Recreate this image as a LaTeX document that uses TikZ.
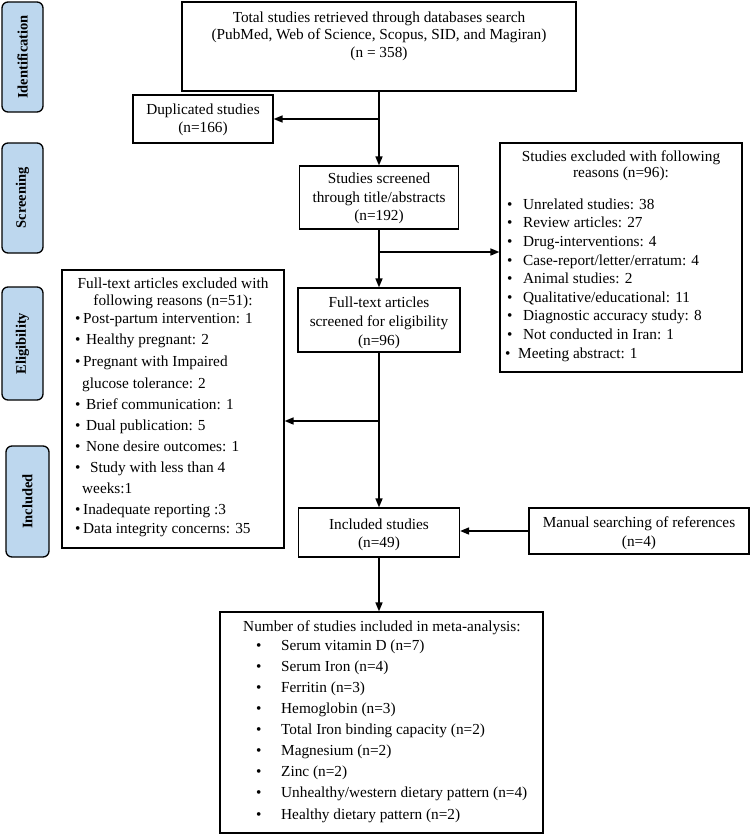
\documentclass[tikz,border=0pt]{standalone}
\usepackage{fontspec}
\setmainfont{Liberation Serif}
\usetikzlibrary{arrows.meta}
\definecolor{sideblue}{HTML}{BDD7EE}
\begin{document}
\begin{tikzpicture}[x=1pt,y=-1pt,
  box/.style={draw, line width=1.2pt, inner sep=0pt, align=center, font=\fontsize{15.3}{18.5}\selectfont},
  btxt/.style={inner sep=0pt, align=center, font=\fontsize{15.3}{18.5}\selectfont},
  txt/.style={font=\fontsize{15.3}{18}\selectfont, inner sep=0pt, text height=10pt, text depth=3.5pt, anchor=west},
  ctxt/.style={txt, anchor=center},
  side/.style={draw, line width=1.3pt, rounded corners=6pt, fill=sideblue, rotate=90, inner sep=0pt, font=\bfseries\fontsize{14.5}{16}\selectfont},
  arr/.style={line width=1.6pt, -{Triangle[length=9pt,width=7pt]}}]
\useasboundingbox (0,0) rectangle (752,835);

% side labels
\node[side, minimum width=110pt, minimum height=41pt] (sid) at (22.5,57) {Identification};
\node[side, minimum width=110pt, minimum height=41pt] (sscr) at (22.5,198) {Screening};
\node[side, minimum width=113pt, minimum height=41pt] (selig) at (22.5,343.5) {Eligibility};
\node[side, minimum width=111pt, minimum height=43pt] (sinc) at (27.5,501.5) {Included};

% main boxes
\node[box, minimum width=394pt, minimum height=89pt] (top) at (379,46.5) {};
\node[btxt, font=\fontsize{15.3}{17.5}\selectfont] (topt) at (379,36)
  {Total studies retrieved through databases search\\(PubMed, Web of Science, Scopus, SID, and Magiran)\\(n = 358)};
\node[box, minimum width=140pt, minimum height=48pt] (dup) at (203,119) {};
\node[btxt] (dupt) at (203,120) {Duplicated studies\\(n=166)};
\node[box, minimum width=159pt, minimum height=63pt] (scr) at (379,197.5) {};
\node[btxt] (scrt) at (379,198.5) {Studies screened\\through title/abstracts\\(n=192)};
\node[box, minimum width=162pt, minimum height=64pt] (ft) at (379,320) {};
\node[btxt, font=\fontsize{15.3}{19}\selectfont] (ftt) at (379,323) {Full-text articles\\screened for eligibility\\(n=96)};
\node[box, minimum width=161pt, minimum height=49pt] (inc) at (379,532.5) {};
\node[btxt] (inct) at (379,535) {Included studies\\(n=49)};
\node[box, minimum width=220pt, minimum height=46pt] (man) at (639,531) {};
\node[btxt, font=\fontsize{15.3}{19}\selectfont] (mant) at (639,533.5) {Manual searching of references\\(n=4)};

% excluded (screening)
\node[box, minimum width=242pt, minimum height=229pt] (ex1) at (621,257.5) {};
\node[ctxt] (ex1a) at (621,158) {Studies excluded with following};
\node[ctxt] (ex1b) at (621,174) {reasons (n=96):};
\foreach \t [count=\i] in {Unrelated studies: 38, Review articles: 27, Drug-interventions: 4, Case-report/letter/erratum: 4, Animal studies: 2, Qualitative/educational: 11, Diagnostic accuracy study: 8, Not conducted in Iran: 1}
  \node[txt] (ex1l\i) at (507,{206+18.6*(\i-1)}) {\makebox[16pt][l]{•}\t};
\node[txt] (ex1l9) at (505,355) {\makebox[13pt][l]{•}Meeting abstract: 1};

% excluded (eligibility)
\node[box, minimum width=222pt, minimum height=278pt] (ex2) at (173,409) {};
\node[ctxt] (ex2a) at (173,285) {Full-text articles excluded with};
\node[ctxt] (ex2b) at (173,302) {following reasons (n=51):};
\node[txt] (ex2l1) at (75,320) {\makebox[8pt][l]{•}Post-partum intervention: 1};
\node[txt] (ex2l2) at (75,341) {\makebox[11pt][l]{•}Healthy pregnant: 2};
\node[txt] (ex2l3) at (75,363) {\makebox[8pt][l]{•}Pregnant with Impaired};
\node[txt] (ex2l4) at (82,385) {glucose tolerance: 2};
\node[txt] (ex2l5) at (75,406) {\makebox[11pt][l]{•}Brief communication: 1};
\node[txt] (ex2l6) at (75,427) {\makebox[11pt][l]{•}Dual publication: 5};
\node[txt] (ex2l7) at (75,448) {\makebox[11pt][l]{•}None desire outcomes: 1};
\node[txt] (ex2l8) at (75,469) {\makebox[11pt][l]{•} Study with less than 4};
\node[txt] (ex2l9) at (82,490) {weeks:1};
\node[txt] (ex2l10) at (75,511) {\makebox[8pt][l]{•}Inadequate reporting :3};
\node[txt] (ex2l11) at (75,530) {\makebox[8pt][l]{•}Data integrity concerns: 35};

% final box
\node[box, minimum width=323pt, minimum height=221pt] (fin) at (381.5,722.5) {};
\node[txt] (fint) at (243,628) {Number of studies included in meta-analysis:};
\foreach \t [count=\i] in {Serum vitamin D (n=7), Serum Iron (n=4), Ferritin (n=3), Hemoglobin (n=3), Total Iron binding capacity (n=2), Magnesium (n=2), Zinc (n=2), Unhealthy/western dietary pattern (n=4), Healthy dietary pattern (n=2)}
  \node[txt] (finl\i) at (256,{647+21.1*(\i-1)}) {\makebox[25pt][l]{•}\t};

% connectors
\draw[arr] (top.south) -- (scr.north);
\draw[arr] (top.south |- dup.east) -- (dup.east);
\draw[arr] (scr.south) -- (ft.north);
\coordinate (b1) at (scr.south |- 0,252);
\draw[arr] (b1) -- (b1 -| ex1.west);
\draw[arr] (ft.south) -- (inc.north);
\coordinate (b2) at (ft.south |- 0,421);
\draw[arr] (b2) -- (b2 -| ex2.east);
\draw[arr] (man.west) -- (man.west -| inc.east);
\draw[arr] (inc.south) -- (inc.south |- fin.north);
\end{tikzpicture}
\end{document}
